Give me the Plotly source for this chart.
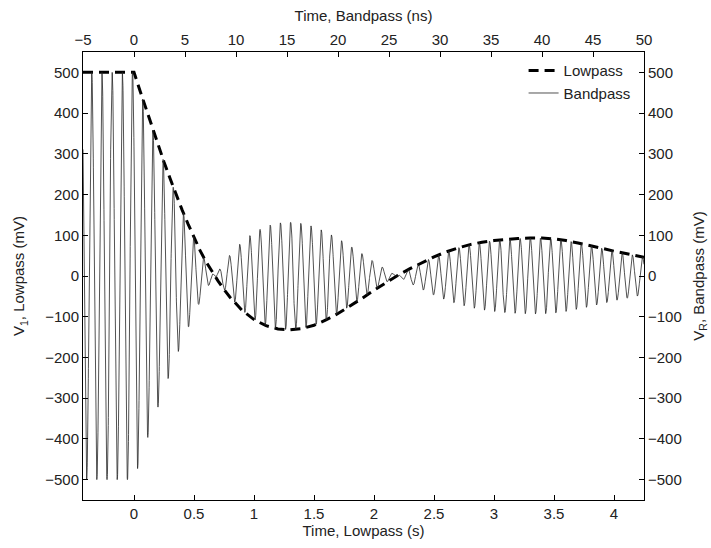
import numpy as np
import plotly.graph_objects as go

# Lowpass envelope V1(t) (t in s, V in mV)
LP_T = [-0.425, 0.0, 0.05, 0.1, 0.15, 0.2, 0.25, 0.3, 0.35, 0.4, 0.45, 0.5, 0.55, 0.6,
        0.65, 0.7, 0.75, 0.8, 0.9, 1.0, 1.1, 1.2, 1.3,
        1.4, 1.5, 1.6, 1.7, 1.8, 1.9, 2.0, 2.1, 2.2, 2.3, 2.4, 2.5, 2.6, 2.7, 2.8,
        2.9, 3.0, 3.1, 3.2, 3.3, 3.4, 3.5, 3.6, 3.7, 3.8, 3.9, 4.0, 4.1, 4.25]
LP_V = [500, 500, 455, 410, 365, 322, 280, 240, 200, 163, 128, 95, 63, 35,
        10, -12, -33, -52, -84, -107, -122, -130, -132,
        -129, -121, -108, -92, -74, -55, -35, -16, 2, 18, 33, 47, 59, 69, 77,
        83, 87, 90, 92, 93, 93, 91, 87, 81, 75, 68, 61, 55, 46]

# Axis relationship and carrier
S_PER_NS = 0.085          # 50 ns on the top axis lines up with 4.25 s on the bottom
CARRIER_GHZ = 1.0         # about one cycle per ns
CARRIER_PHASE = 0.9

X_BOTTOM_RANGE = [-0.425, 4.25]
X_TOP_RANGE = [-5, 50]
Y_RANGE = [-550, 550]

t_ns = np.linspace(X_TOP_RANGE[0], X_TOP_RANGE[1], 6000)
env = np.interp(t_ns * S_PER_NS, LP_T, LP_V)
bp = env * np.cos(2 * np.pi * CARRIER_GHZ * t_ns + CARRIER_PHASE)

font = dict(family="Liberation Sans, Arial, sans-serif", size=15, color="#222")

fig = go.Figure()
fig.add_trace(go.Scatter(x=t_ns, y=bp, xaxis="x2", yaxis="y2", mode="lines",
                         name="Bandpass", line=dict(color="#262626", width=0.8)))
fig.add_trace(go.Scatter(x=LP_T, y=LP_V, xaxis="x", yaxis="y", mode="lines",
                         name="Lowpass",
                         line=dict(color="black", width=3, dash="10px,6px")))

axcommon = dict(showline=True, linecolor="black", linewidth=1, ticks="inside",
                ticklen=5, tickcolor="black", showgrid=False, zeroline=False,
                tickfont=font, title_font=font, automargin=False)

fig.update_layout(
    width=711, height=548,
    margin=dict(l=83, r=67, t=52, b=48),
    paper_bgcolor="white", plot_bgcolor="white",
    font=font,
    showlegend=True,
    legend=dict(x=0.985, y=0.995, xanchor="right", yanchor="top",
                bgcolor="rgba(0,0,0,0)", font=font, traceorder="reversed",
                itemwidth=30, tracegroupgap=0),
    xaxis=dict(range=X_BOTTOM_RANGE, dtick=0.5, tick0=0, anchor="y",
               title=dict(text="Time, Lowpass (s)", standoff=2), **axcommon),
    xaxis2=dict(range=X_TOP_RANGE, dtick=5, tick0=0, overlaying="x", side="top",
                anchor="y", title=dict(text="Time, Bandpass (ns)", standoff=5),
                **axcommon),
    yaxis=dict(range=Y_RANGE, dtick=100, tick0=0, anchor="x",
               title=dict(text="V<sub>1</sub>, Lowpass (mV)", standoff=16), **axcommon),
    yaxis2=dict(range=Y_RANGE, dtick=100, tick0=0, overlaying="y", side="right",
                anchor="x", title=dict(text="V<sub>R</sub>, Bandpass (mV)", standoff=12),
                **axcommon),
)

fig.write_html("out.html")
